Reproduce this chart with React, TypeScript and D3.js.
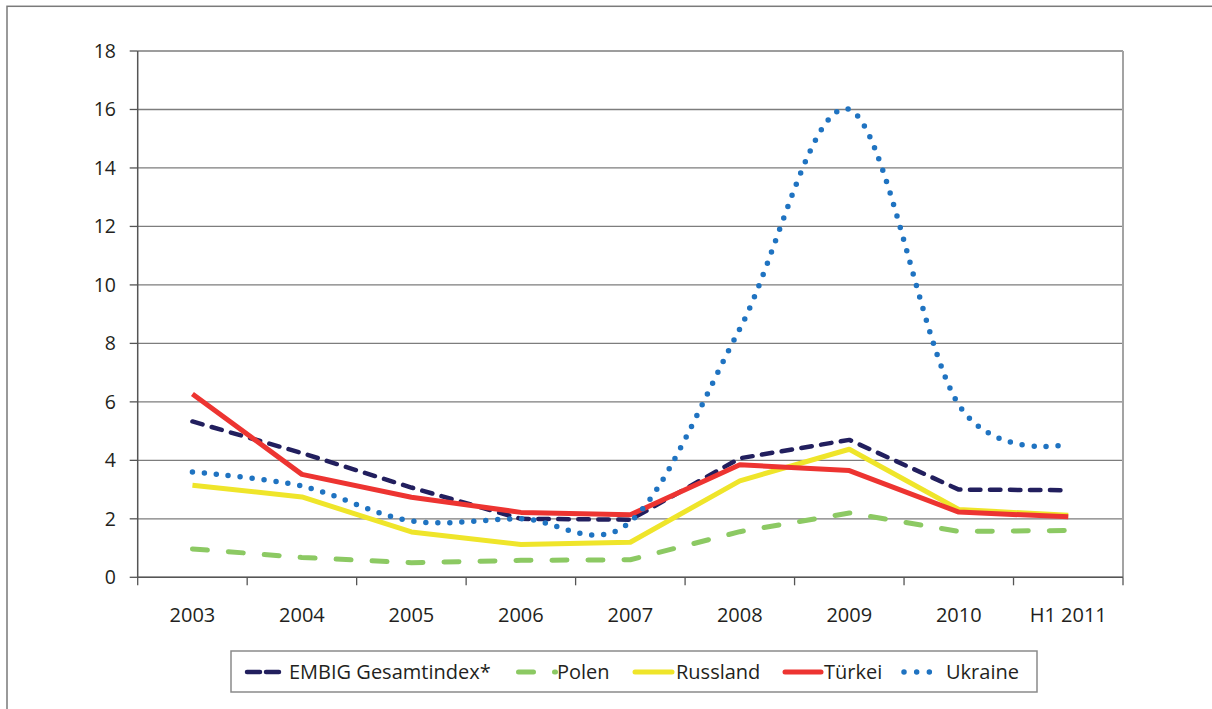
import * as d3 from 'd3';
import React from 'react';

// Kategorien und Werte (in %)
const categories = ['2003', '2004', '2005', '2006', '2007', '2008', '2009', '2010', 'H1 2011'];
const embig = [5.33, 4.25, 3.07, 2.0, 1.97, 4.07, 4.7, 3.0, 2.98];
const polen = [0.97, 0.68, 0.5, 0.58, 0.6, 1.56, 2.2, 1.57, 1.6];
const russland = [3.15, 2.75, 1.55, 1.12, 1.2, 3.3, 4.38, 2.32, 2.12];
const tuerkei = [6.27, 3.52, 2.74, 2.22, 2.14, 3.85, 3.65, 2.23, 2.07];
const ukraine = [3.6, 3.12, 1.93, 2.0, 1.9, 8.5, 16.0, 5.9, 4.55];
const yTicks = [0, 2, 4, 6, 8, 10, 12, 14, 16, 18];

type Series = {
  name: string;
  values: number[];
  color: string;
  width: number;
  dash?: string;
  legendDash?: string;
  smooth?: boolean;
};

const series: Series[] = [
  { name: 'EMBIG Gesamtindex*', values: embig, color: '#221f5e', width: 4.5, dash: '10.5 9.5', legendDash: '13 6' },
  { name: 'Polen', values: polen, color: '#8cc963', width: 5, dash: '15 21', legendDash: '15 21' },
  { name: 'Russland', values: russland, color: '#efe52a', width: 5 },
  { name: 'Türkei', values: tuerkei, color: '#ed3431', width: 5 },
  { name: 'Ukraine', values: ukraine, color: '#1f73c1', width: 5.5, dash: '0 12', legendDash: '0 12.67', smooth: true },
];

// Legenden-Layout: Linienmuster von/bis, Textanfang
const legendLayout = [
  { x1: 247, x2: 279, tx: 289 },
  { x1: 518.5, x2: 555.5, tx: 557 },
  { x1: 635, x2: 672, tx: 676 },
  { x1: 785, x2: 821, tx: 824 },
  { x1: 904, x2: 942, tx: 946 },
];

const W = 1212;
const H = 709;
const left = 137.7;
const right = 1123;
const top = 51;
const bottom = 577.3;
const font = '"Open Sans", sans-serif';
const textColor = '#231f20';

const App: React.FC = () => {
  const x = d3.scaleBand<string>().domain(categories).range([left, right]).padding(0);
  const y = d3.scaleLinear().domain([0, 18]).range([bottom, top]);
  const cx = (i: number) => (x(categories[i]) ?? 0) + x.bandwidth() / 2;

  const straight = d3.line<number>().x((_d, i) => cx(i)).y(d => y(d));
  const smooth = d3.line<number>().x((_d, i) => cx(i)).y(d => y(d)).curve(d3.curveCardinal.tension(0));

  const bounds = [...categories.map(c => x(c) ?? 0), right];

  return (
    <div style={{ position: 'absolute', left: 0, top: 0 }}>
      <svg width={W} height={H} style={{ display: 'block', background: '#fff' }}>
        {/* äußerer Rahmen */}
        <rect x={7} y={6.3} width={1300} height={800} fill="none" stroke="#7a7a7a" strokeWidth={1.5} />

        {/* Gitterlinien */}
        {yTicks.map(t => (
          <g key={t}>
            <line x1={left} x2={right} y1={y(t)} y2={y(t)} stroke="#7d7d7d" strokeWidth={1.3} />
            <line x1={left - 8} x2={left} y1={y(t)} y2={y(t)} stroke="#555" strokeWidth={1.3} />
            <text x={116} y={y(t)} dy="0.36em" textAnchor="end" fontFamily={font} fontSize={19.5} fill={textColor}>
              {t}
            </text>
          </g>
        ))}

        {/* rechter Rand der Zeichenfläche */}
        <line x1={right} x2={right} y1={top} y2={bottom} stroke="#a3a3a3" strokeWidth={2} />

        {/* Achsen */}
        <line x1={left} x2={left} y1={top} y2={bottom} stroke="#555" strokeWidth={1.5} />
        <line x1={left} x2={right} y1={bottom} y2={bottom} stroke="#555" strokeWidth={1.5} />
        {bounds.map((b, i) => (
          <line key={i} x1={b} x2={b} y1={bottom} y2={bottom + 8} stroke="#555" strokeWidth={1.3} />
        ))}
        {categories.map((c, i) => (
          <text key={c} x={cx(i)} y={622} textAnchor="middle" fontFamily={font} fontSize={20} fill={textColor}>
            {c}
          </text>
        ))}

        {/* Linien */}
        {series.map(s => (
          <path
            key={s.name}
            d={(s.smooth ? smooth : straight)(s.values) ?? ''}
            fill="none"
            stroke={s.color}
            strokeWidth={s.width}
            strokeDasharray={s.dash}
            strokeLinecap={s.dash ? 'round' : 'butt'}
            strokeLinejoin="round"
          />
        ))}

        {/* Legende */}
        <rect x={231} y={651} width={806} height={41} fill="#fff" stroke="#8a8a8a" strokeWidth={1.5} />
        {series.map((s, i) => {
          const l = legendLayout[i];
          return (
            <g key={s.name}>
              <line
                x1={l.x1}
                x2={l.x2}
                y1={672}
                y2={672}
                stroke={s.color}
                strokeWidth={s.width}
                strokeDasharray={s.legendDash}
                strokeLinecap="round"
              />
              <text x={l.tx} y={679} fontFamily={font} fontSize={20} fill={textColor}>
                {s.name}
              </text>
            </g>
          );
        })}
      </svg>
    </div>
  );
};

export default App;
